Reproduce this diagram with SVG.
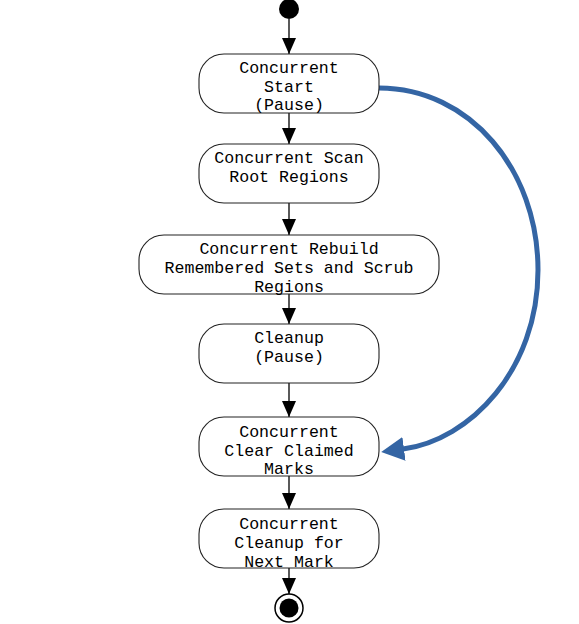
<svg xmlns="http://www.w3.org/2000/svg" width="579" height="624" viewBox="0 0 579 624">
<style>
.box{fill:#fff;stroke:#222;stroke-width:1.1}
.lbl{font-family:"Liberation Mono","DejaVu Sans Mono",monospace;font-size:16.6px;fill:#000;text-anchor:middle}
.flow{stroke:#000;stroke-width:1.3;fill:none;marker-end:url(#ah)}
.back{stroke:#3465a4;stroke-width:5;fill:none;marker-end:url(#bh)}
</style>
<defs>
<marker id="ah" markerUnits="userSpaceOnUse" markerWidth="16" markerHeight="14" refX="16" refY="7" orient="auto" viewBox="0 0 16 14">
<path d="M0,0 L16,7 L0,14 z" fill="#000"/>
</marker>
<marker id="bh" markerUnits="userSpaceOnUse" markerWidth="23" markerHeight="24" refX="1" refY="12" orient="auto" viewBox="0 0 23 24">
<path d="M0,0 L23,12 L0,24 z" fill="#3465a4"/>
</marker>
</defs>
<rect width="579" height="624" fill="#fff"/>
<g id="connectors">
<line class="flow" x1="289" y1="19" x2="289" y2="54"/>
<line class="flow" x1="289" y1="113" x2="289" y2="144"/>
<line class="flow" x1="289" y1="203" x2="289" y2="235"/>
<line class="flow" x1="289" y1="294" x2="289" y2="324"/>
<line class="flow" x1="289" y1="383" x2="289" y2="417"/>
<line class="flow" x1="289" y1="476" x2="289" y2="509"/>
<line class="flow" x1="289" y1="568" x2="289" y2="594"/>
<path class="back" d="M379,88 C470,88 538,170 538,270 C538,370 470,440 403,449"/>
</g>
<g id="start"><circle cx="289" cy="9" r="10" fill="#000"/></g>
<g id="n1">
<rect class="box" x="199" y="54" width="180" height="59" rx="25"/>
<text class="lbl" x="289" y="73">Concurrent</text>
<text class="lbl" x="289" y="92">Start</text>
<text class="lbl" x="289" y="110">(Pause)</text>
</g>
<g id="n2">
<rect class="box" x="199" y="144" width="180" height="59" rx="25"/>
<text class="lbl" x="289" y="163">Concurrent Scan</text>
<text class="lbl" x="289" y="182">Root Regions</text>
</g>
<g id="n3">
<rect class="box" x="139" y="235" width="300" height="59" rx="25"/>
<text class="lbl" x="289" y="254">Concurrent Rebuild</text>
<text class="lbl" x="289" y="273">Remembered Sets and Scrub</text>
<text class="lbl" x="289" y="292">Regions</text>
</g>
<g id="n4">
<rect class="box" x="199" y="324" width="180" height="59" rx="25"/>
<text class="lbl" x="289" y="343">Cleanup</text>
<text class="lbl" x="289" y="362">(Pause)</text>
</g>
<g id="n5">
<rect class="box" x="199" y="417" width="180" height="59" rx="25"/>
<text class="lbl" x="289" y="437">Concurrent</text>
<text class="lbl" x="289" y="456">Clear Claimed</text>
<text class="lbl" x="289" y="474">Marks</text>
</g>
<g id="n6">
<rect class="box" x="199" y="509" width="180" height="59" rx="25"/>
<text class="lbl" x="289" y="529">Concurrent</text>
<text class="lbl" x="289" y="548">Cleanup for</text>
<text class="lbl" x="289" y="567">Next Mark</text>
</g>
<g id="end">
<circle cx="289" cy="608" r="14" fill="#fff" stroke="#000" stroke-width="1.5"/>
<circle cx="289" cy="608" r="9.5" fill="#000"/>
</g>
</svg>
